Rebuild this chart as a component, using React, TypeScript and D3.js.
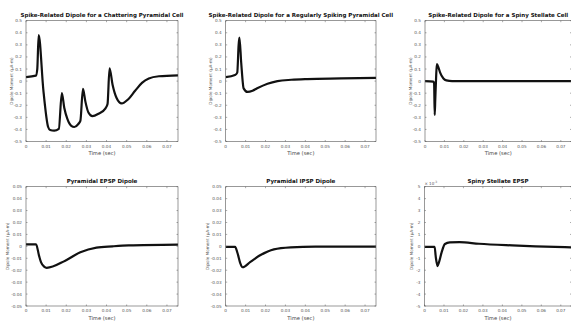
import React, { useEffect, useRef } from 'react';
import * as d3 from 'd3';

// time axis shared by every panel (sec)
const timeTicks = [0, 0.01, 0.02, 0.03, 0.04, 0.05, 0.06, 0.07];
const timeMax = 0.0755;

const spikeTicks = [-0.5, -0.4, -0.3, -0.2, -0.1, 0, 0.1, 0.2, 0.3, 0.4, 0.5];
const pspTicks = [-0.05, -0.04, -0.03, -0.02, -0.01, 0, 0.01, 0.02, 0.03, 0.04, 0.05];
const stellateTicks = [-5, -4, -3, -2, -1, 0, 1, 2, 3, 4, 5];

// chattering pyramidal cell spike dipole (uA-m)
const chatterT = [0, 0.0049, 0.0056, 0.0063, 0.0086, 0.011, 0.012, 0.014, 0.0163, 0.0178, 0.019, 0.0205, 0.0225, 0.024, 0.026, 0.027, 0.0283, 0.0295, 0.031, 0.033, 0.036, 0.0395, 0.0405, 0.0415, 0.043, 0.045, 0.0475, 0.0508, 0.0542, 0.0576, 0.061, 0.066, 0.0755];
const chatterV = [0.033, 0.045, 0.1, 0.38, -0.07, -0.38, -0.405, -0.41, -0.395, -0.1, -0.22, -0.31, -0.37, -0.38, -0.355, -0.33, -0.065, -0.17, -0.26, -0.29, -0.27, -0.225, -0.19, 0.105, -0.03, -0.14, -0.185, -0.15, -0.08, -0.015, 0.022, 0.04, 0.048];

// regularly spiking pyramidal cell spike dipole (uA-m)
const regularT = [0, 0.0047, 0.0058, 0.0065, 0.0069, 0.0078, 0.009, 0.011, 0.0135, 0.0158, 0.021, 0.026, 0.033, 0.041, 0.058, 0.0755];
const regularV = [0.033, 0.05, 0.07, 0.3, 0.36, 0.15, -0.06, -0.09, -0.08, -0.06, -0.022, 0, 0.011, 0.017, 0.022, 0.027];

// spiny stellate spike dipole (uA-m)
const stellateSpikeT = [0, 0.0043, 0.0047, 0.005, 0.0053, 0.0057, 0.0061, 0.007, 0.0078, 0.0095, 0.011, 0.014, 0.0755];
const stellateSpikeV = [0, -0.005, -0.02, -0.28, -0.15, 0.02, 0.14, 0.11, 0.07, 0.022, 0.006, 0, 0];

// pyramidal EPSP dipole
const epspT = [0, 0.005, 0.0065, 0.0075, 0.009, 0.0103, 0.0195, 0.027, 0.035, 0.043, 0.051, 0.0755];
const epspV = [0.0017, 0.0017, -0.008, -0.0135, -0.017, -0.018, -0.012, -0.005, -0.0011, 0, 0.0008, 0.0015];

// pyramidal IPSP dipole
const ipspT = [0, 0.0047, 0.006, 0.0073, 0.0085, 0.0124, 0.0175, 0.0242, 0.0327, 0.045, 0.0755];
const ipspV = [-0.0005, -0.0005, -0.006, -0.014, -0.0175, -0.013, -0.0073, -0.0025, -0.0008, -0.0002, -0.0002];

// spiny stellate EPSP (x 10^-3)
const stellateEpspT = [0, 0.0052, 0.0058, 0.0067, 0.0075, 0.0088, 0.0105, 0.013, 0.018, 0.028, 0.045, 0.057, 0.0755];
const stellateEpspV = [-0.05, -0.05, -0.9, -1.65, -1.3, -0.5, 0.2, 0.33, 0.35, 0.22, 0.08, 0, -0.08];

const FONT = 'DejaVu Sans';

interface PanelProps {
  title: string;
  t: number[];
  v: number[];
  yTicks: number[];
  left: number;
  right: number;
  top: number;
  bottom: number;
  yLabelX: number;
  exponent?: boolean;
}

function drawPanel(g: d3.Selection<SVGGElement, unknown, null, undefined>, p: PanelProps) {
  const x = d3.scaleLinear().domain([0, timeMax]).range([p.left, p.right]);
  const yMin = p.yTicks[0];
  const yMax = p.yTicks[p.yTicks.length - 1];
  const y = d3.scaleLinear().domain([yMin, yMax]).range([p.bottom, p.top]);
  const tick = 1.5;
  const axisColor = '#555';
  const labelColor = '#555';

  const clipId = 'clip' + Math.round(p.left) + '_' + Math.round(p.top);
  g.append('clipPath').attr('id', clipId)
    .append('rect')
    .attr('x', p.left).attr('y', p.top - 2)
    .attr('width', p.right - p.left).attr('height', p.bottom - p.top + 4);

  const pts = p.t.map((t, i) => [t, p.v[i]] as [number, number]);
  const line = d3.line<[number, number]>()
    .x(d => x(d[0]))
    .y(d => y(d[1]))
    .curve(d3.curveMonotoneX);

  g.append('path')
    .attr('d', line(pts) || '')
    .attr('clip-path', `url(#${clipId})`)
    .attr('fill', 'none')
    .attr('stroke', '#111')
    .attr('stroke-width', 2.2)
    .attr('stroke-linejoin', 'round');

  // box
  g.append('rect')
    .attr('x', p.left).attr('y', p.top)
    .attr('width', p.right - p.left).attr('height', p.bottom - p.top)
    .attr('fill', 'none').attr('stroke', axisColor).attr('stroke-width', 0.6);

  // x ticks, inward on bottom and top
  timeTicks.forEach(tv => {
    const xx = x(tv);
    g.append('line').attr('x1', xx).attr('x2', xx).attr('y1', p.bottom).attr('y2', p.bottom - tick)
      .attr('stroke', axisColor).attr('stroke-width', 0.5);
    g.append('line').attr('x1', xx).attr('x2', xx).attr('y1', p.top).attr('y2', p.top + tick)
      .attr('stroke', axisColor).attr('stroke-width', 0.5);
    g.append('text')
      .attr('x', xx).attr('y', p.bottom + 6)
      .attr('text-anchor', 'middle')
      .style('font-family', FONT).style('font-size', '4.2px').style('fill', labelColor)
      .text(tv === 0 ? '0' : String(tv));
  });

  // y ticks, inward on left and right
  p.yTicks.forEach(tv => {
    const yy = y(tv);
    g.append('line').attr('x1', p.left).attr('x2', p.left + tick).attr('y1', yy).attr('y2', yy)
      .attr('stroke', axisColor).attr('stroke-width', 0.5);
    g.append('line').attr('x1', p.right).attr('x2', p.right - tick).attr('y1', yy).attr('y2', yy)
      .attr('stroke', axisColor).attr('stroke-width', 0.5);
    g.append('text')
      .attr('x', p.left - 4).attr('y', yy + 1.5)
      .attr('text-anchor', 'end')
      .style('font-family', FONT).style('font-size', '4.2px').style('fill', labelColor)
      .text(String(tv));
  });

  if (p.exponent) {
    const ex = g.append('text')
      .attr('x', p.left).attr('y', p.top - 1.8)
      .style('font-family', FONT).style('font-size', '4px').style('fill', labelColor);
    ex.append('tspan').text('\u00d7 10');
    ex.append('tspan').attr('dy', -1.5).style('font-size', '3px').text('-3');
  }

  // x label
  g.append('text')
    .attr('x', (p.left + p.right) / 2).attr('y', p.bottom + 13.5)
    .attr('text-anchor', 'middle')
    .style('font-family', FONT).style('font-size', '5.2px').style('fill', '#444')
    .text('Time (sec)');

  // y label
  g.append('text')
    .attr('transform', `translate(${p.yLabelX},${(p.top + p.bottom) / 2}) rotate(-90)`)
    .attr('text-anchor', 'middle')
    .attr('dy', '0.35em')
    .style('font-family', FONT).style('font-size', '4.2px').style('fill', '#555')
    .text('Dipole Moment (\u03bcA-m)');

  // title
  g.append('text')
    .attr('x', (p.left + p.right) / 2).attr('y', p.top - 3.3)
    .attr('text-anchor', 'middle')
    .style('font-family', FONT).style('font-size', '5.5px').style('font-weight', 'bold').style('fill', '#111')
    .text(p.title);
}

const panels: PanelProps[] = [
  { title: 'Spike-Related Dipole for a Chattering Pyramidal Cell', t: chatterT, v: chatterV, yTicks: spikeTicks,
    left: 26, right: 178, top: 20.7, bottom: 141.5, yLabelX: 11.7 },
  { title: 'Spike-Related Dipole for a Regularly Spiking Pyramidal Cell', t: regularT, v: regularV, yTicks: spikeTicks,
    left: 225.7, right: 376, top: 20.7, bottom: 141.5, yLabelX: 210.5 },
  { title: 'Spike-Related Dipole for a Spiny Stellate Cell', t: stellateSpikeT, v: stellateSpikeV, yTicks: spikeTicks,
    left: 425, right: 571.5, top: 20.7, bottom: 141.5, yLabelX: 410.7 },
  { title: 'Pyramidal EPSP Dipole', t: epspT, v: epspV, yTicks: pspTicks,
    left: 26, right: 178, top: 186.7, bottom: 306, yLabelX: 7.5 },
  { title: 'Pyramidal IPSP Dipole', t: ipspT, v: ipspV, yTicks: pspTicks,
    left: 225.7, right: 376, top: 186.7, bottom: 306, yLabelX: 207.3 },
  { title: 'Spiny Stellate EPSP', t: stellateEpspT, v: stellateEpspV, yTicks: stellateTicks,
    left: 424.5, right: 571.5, top: 186.7, bottom: 306, yLabelX: 411.7, exponent: true },
];

const App: React.FC = () => {
  const svgRef = useRef<SVGSVGElement>(null);
  const width = 571;
  const height = 323;

  useEffect(() => {
    if (!svgRef.current) return;
    const svg = d3.select(svgRef.current);
    svg.selectAll('*').remove();
    panels.forEach(p => {
      const g = svg.append('g') as d3.Selection<SVGGElement, unknown, null, undefined>;
      drawPanel(g, p);
    });
  }, []);

  return (
    <div style={{ position: 'absolute', left: 0, top: 0, background: 'white' }}>
      <svg ref={svgRef} width={width} height={height} style={{ display: 'block' }}></svg>
    </div>
  );
};

export default App;
